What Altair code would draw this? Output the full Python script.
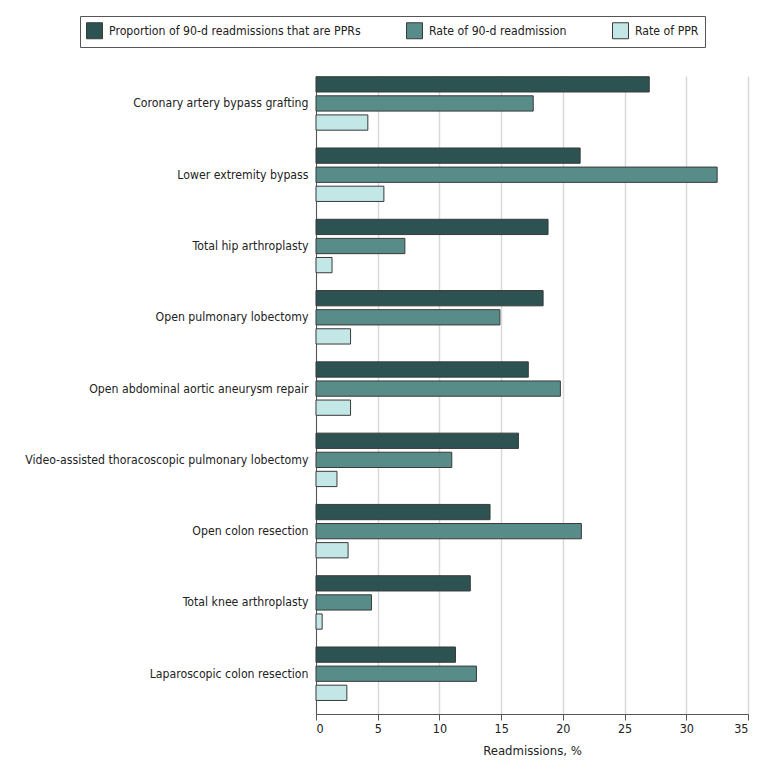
import altair as alt
import pandas as pd

procedures = [
    "Coronary artery bypass grafting",
    "Lower extremity bypass",
    "Total hip arthroplasty",
    "Open pulmonary lobectomy",
    "Open abdominal aortic aneurysm repair",
    "Video-assisted thoracoscopic pulmonary lobectomy",
    "Open colon resection",
    "Total knee arthroplasty",
    "Laparoscopic colon resection",
]
series = [
    "Proportion of 90-d readmissions that are PPRs",
    "Rate of 90-d readmission",
    "Rate of PPR",
]
proportion_ppr = [27.0, 21.4, 18.8, 18.4, 17.2, 16.4, 14.1, 12.5, 11.3]
rate_90d = [17.6, 32.5, 7.2, 14.9, 19.8, 11.0, 21.5, 4.5, 13.0]
rate_ppr = [4.2, 5.5, 1.3, 2.8, 2.8, 1.7, 2.6, 0.5, 2.5]
colors = ["#2c5251", "#578c89", "#c3e7e6"]

rows = []
for vals, s in zip([proportion_ppr, rate_90d, rate_ppr], series):
    for p, v in zip(procedures, vals):
        rows.append({"Procedure": p, "Series": s, "Value": v})
df = pd.DataFrame(rows)

FONT = "DejaVu Sans Condensed"

chart = alt.Chart(df).mark_bar(stroke="#3a3a3a", strokeWidth=1).encode(
    y=alt.Y("Procedure:N", sort=procedures, title=None,
            scale=alt.Scale(paddingInner=0.25, paddingOuter=0.1, align=0.05),
            axis=alt.Axis(ticks=False, domain=True, domainColor="#555555",
                          labelFontSize=12.2, labelColor="#222222", labelPadding=8,
                          labelFont=FONT, labelLimit=400)),
    yOffset=alt.YOffset("Series:N", sort=series,
                        scale=alt.Scale(paddingInner=0.2, paddingOuter=0)),
    x=alt.X("Value:Q", title="Readmissions, %",
            scale=alt.Scale(domain=[0, 35], nice=False),
            axis=alt.Axis(values=[0, 5, 10, 15, 20, 25, 30, 35], grid=True,
                          gridColor="#d9d9d9", gridWidth=1.5,
                          domainColor="#555555", tickColor="#555555", tickSize=6,
                          labelFontSize=12.5, labelColor="#222222", labelFont=FONT,
                          titleFont=FONT, titleFontSize=13, titleFontWeight="normal",
                          titleColor="#222222", titlePadding=10)),
    color=alt.Color("Series:N", sort=series,
                    scale=alt.Scale(domain=series, range=colors),
                    legend=alt.Legend(title=None, orient="none", direction="horizontal",
                                      legendX=-236, legendY=-60,
                                      symbolType="square", symbolSize=256,
                                      symbolStrokeColor="#3a3a3a", symbolStrokeWidth=1,
                                      labelFontSize=12.2, labelFont=FONT, labelColor="#222222",
                                      labelLimit=400,
                                      columnPadding=43, labelOffset=6,
                                      strokeColor="#555555", padding=6,
                                      fillColor="white")),
).properties(
    width=432, height=638,
    padding={"left": 16, "top": 7, "right": 5, "bottom": 5},
).configure_view(stroke=None)

chart.save("out.html", embed_options={"renderer": "svg", "actions": False})
